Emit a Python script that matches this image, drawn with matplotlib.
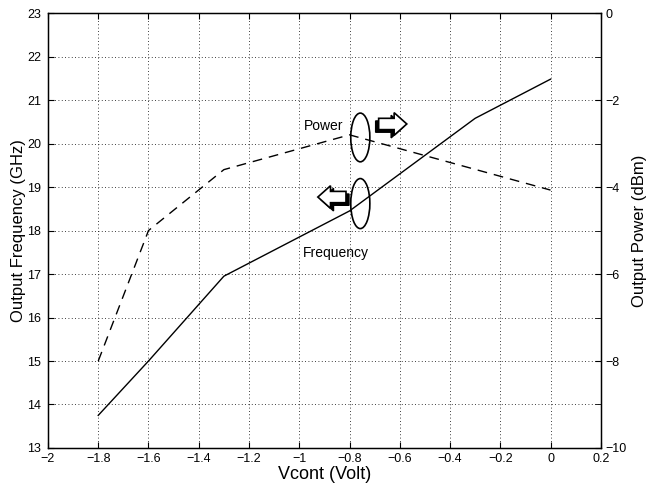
import matplotlib
matplotlib.use("Agg")
import matplotlib.pyplot as plt
from matplotlib.patches import Ellipse, Polygon

plt.rcParams['font.family'] = ['Liberation Sans', 'DejaVu Sans']

vcont_freq = [-1.8, -1.6, -1.3, -0.8, -0.3, 0.0]
freq_ghz = [13.75, 15.0, 16.95, 18.45, 20.58, 21.48]

vcont_pow = [-1.8, -1.6, -1.3, -0.8, 0.0]
power_dbm = [-8.0, -5.0, -3.6, -2.8, -4.07]

xticks = [-2, -1.8, -1.6, -1.4, -1.2, -1, -0.8, -0.6, -0.4, -0.2, 0, 0.2]
xtick_labels = ['−2', '−1.8', '−1.6', '−1.4', '−1.2', '−1', '−0.8', '−0.6', '−0.4', '−0.2', '0', '0.2']
yticks_left = list(range(13, 24))
yticks_right = [0, -2, -4, -6, -8, -10]

fig = plt.figure(figsize=(6.53, 4.84), dpi=100)
ax = fig.add_axes([0.0735, 0.0744, 0.8465, 0.8986])
ax2 = ax.twinx()

ax.plot(vcont_freq, freq_ghz, color='black', lw=1.0)
ax2.plot(vcont_pow, power_dbm, color='black', lw=1.0, linestyle=(0, (7, 5)))

ax.set_xlim(-2, 0.2)
ax.set_ylim(13, 23)
ax2.set_ylim(-10, 0)
ax.set_xticks(xticks)
ax.set_xticklabels(xtick_labels)
ax.set_yticks(yticks_left)
ax2.set_yticks(yticks_right)
ax2.set_yticks([-1, -3, -5, -7, -9], minor=True)
ax2.set_yticklabels([str(v).replace('-', '−') for v in yticks_right])

ax.grid(True, linestyle=(0, (1, 3)), color='black', lw=0.6)
ax.tick_params(direction='in', length=4, labelsize=9, top=True, right=False)
ax.tick_params(axis='y', pad=5)
ax2.tick_params(which='both', direction='in', length=4, labelsize=9)
ax2.tick_params(which='minor', length=4)

ax.set_xlabel('Vcont (Volt)', fontsize=13, labelpad=1)
ax.set_ylabel('Output Frequency (GHz)', fontsize=12, labelpad=1)
ax2.set_ylabel('Output Power (dBm)', fontsize=12, labelpad=4)

for sp in ax.spines.values():
    sp.set_linewidth(1.0)

# annotations
ax.add_patch(Ellipse((-0.757, 20.14), 0.076, 1.12, fill=False, lw=1.2, color='black', zorder=5))
ax.add_patch(Ellipse((-0.757, 18.62), 0.076, 1.15, fill=False, lw=1.2, color='black', zorder=5))
ax.text(-0.902, 20.40, 'Power', fontsize=10, ha='center', va='center')
ax.text(-0.854, 17.48, 'Frequency', fontsize=10, ha='center', va='center')

def block_arrow(x0, x1, yc, direction):
    hh = 0.26
    sh = 0.13
    L = x1 - x0
    if direction > 0:
        xs = x0; xe = x1; hb = x0 + 0.55 * L
    else:
        xs = x1; xe = x0; hb = x1 - 0.55 * L
    pts = [(xs, yc - sh), (hb, yc - sh), (hb, yc - hh), (xe, yc), (hb, yc + hh), (hb, yc + sh), (xs, yc + sh)]
    shadow = [(p[0] - 0.012 * direction, p[1] - 0.06) for p in pts]
    ax.add_patch(Polygon(shadow, closed=True, color='black', zorder=5))
    ax.add_patch(Polygon(pts, closed=True, facecolor='white', edgecolor='black', lw=1.2, zorder=6))

block_arrow(-0.684, -0.572, 20.45, 1)
block_arrow(-0.926, -0.814, 18.77, -1)

fig.savefig('out.png', dpi=100)
